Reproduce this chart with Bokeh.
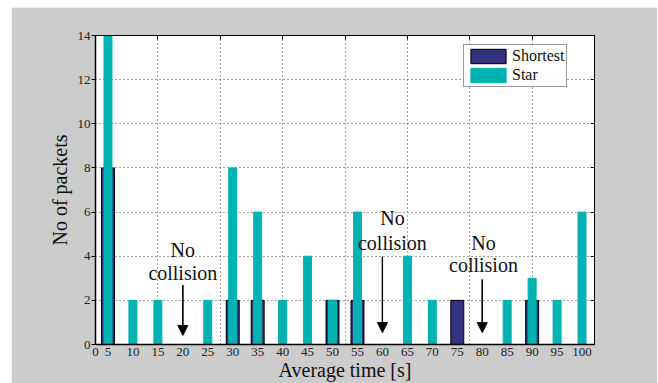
from bokeh.plotting import figure
from bokeh.models import (ColumnDataSource, FixedTicker, LinearAxis, Range1d,
                          Label, Arrow, NormalHead)
from bokeh.embed import file_html
from bokeh.resources import INLINE

# ---- data ----
times = ["5", "10", "15", "20", "25", "30", "35", "40", "45", "50",
         "55", "60", "65", "70", "75", "80", "85", "90", "95", "100"]
shortest = [8, 0, 0, 0, 0, 2, 2, 0, 0, 2, 2, 0, 0, 0, 2, 0, 0, 2, 0, 0]
star = [14, 2, 2, 0, 2, 8, 6, 2, 4, 2, 6, 0, 4, 2, 0, 0, 2, 3, 2, 6]
y_ticks = [0, 2, 4, 6, 8, 10, 12, 14]
no_collision_at = ["20", "60", "80"]

NAVY = "#32327f"
TEAL = "#00b3b3"
FONT = "Liberation Serif"

idx = list(range(1, len(times) + 1))
src = ColumnDataSource(dict(x=idx, shortest=shortest, star=star))

p = figure(width=646, height=376, output_backend="svg", toolbar_location=None,
           x_range=Range1d(0.5, 20.5), y_range=Range1d(0, 14),
           min_border_left=84, min_border_top=28, min_border_right=63,
           min_border_bottom=39)
p.margin = (7, 1, 0, 11)
p.background_fill_color = "white"
p.border_fill_color = "#cccccc"
p.outline_line_color = "black"
p.outline_line_width = 1

p.vbar(x="x", top="shortest", width=0.52, source=src, fill_color=NAVY,
       line_color="black", line_width=1, legend_label="Shortest")
p.vbar(x="x", top="star", width=0.32, source=src, fill_color=TEAL,
       line_color=TEAL, line_width=1, legend_label="Star")

xt = [0.5] + idx
p.xaxis.ticker = FixedTicker(ticks=xt)
ov = {0.5: "0"}
for i, t in zip(idx, times):
    ov[i] = t
p.xaxis.major_label_overrides = ov
p.xaxis.major_tick_in = 0
p.xaxis.major_tick_out = 0
p.xaxis.minor_tick_line_color = None
p.xaxis.major_label_standoff = 3
p.xaxis.axis_label = "Average time [s]"
p.xaxis.axis_label_standoff = 0

p.yaxis.ticker = FixedTicker(ticks=y_ticks)
p.yaxis.major_tick_in = 0
p.yaxis.major_tick_out = 4
p.yaxis.minor_tick_line_color = None
p.yaxis.major_label_standoff = 1
p.yaxis.axis_label = "No of packets"
p.yaxis.axis_label_standoff = 4

for ax in (p.xaxis[0], p.yaxis[0]):
    ax.axis_line_color = "black"
    ax.axis_line_width = 1.5
    ax.major_tick_line_color = "black"
    ax.major_label_text_font = FONT
    ax.major_label_text_font_size = "13px"
    ax.major_label_text_color = "#222222"
    ax.axis_label_text_font = FONT
    ax.axis_label_text_font_size = "20px"
    ax.axis_label_text_font_style = "normal"
    ax.axis_label_text_color = "#111111"

gx = [3, 5.5, 8, 10.5, 13, 15.5, 18]
top = LinearAxis(ticker=FixedTicker(ticks=gx), major_tick_in=4, major_tick_out=0,
                 minor_tick_line_color=None, major_label_text_color=None,
                 axis_line_color="black", major_label_text_font_size="1px")
right = LinearAxis(ticker=FixedTicker(ticks=y_ticks), major_tick_in=4, major_tick_out=0,
                   minor_tick_line_color=None, major_label_text_color=None,
                   axis_line_color="black", major_label_text_font_size="1px")
p.add_layout(top, "above")
p.add_layout(right, "right")

p.xgrid.ticker = FixedTicker(ticks=gx)
for g in (p.xgrid[0], p.ygrid[0]):
    g.grid_line_color = "#444444"
    g.grid_line_dash = "1 3"
    g.grid_line_width = 1
p.ygrid.ticker = FixedTicker(ticks=y_ticks[1:-1])

text_pos = {"20": (4.0, 4.3, 3.26, 2.7, 0.41),
            "60": (12.4, 5.71, 4.62, 3.98, 0.54),
            "80": (16.05, 4.58, 3.58, 2.95, 0.54)}
for t in no_collision_at:
    xi = times.index(t) + 1
    tx, y1, y2, a0, a1 = text_pos[t]
    for s, yy in (("No", y1), ("collision", y2)):
        p.add_layout(Label(x=tx, y=yy, text=s, text_align="center",
                           text_baseline="middle", text_font=FONT,
                           text_font_size="20px", text_color="#111111"))
    p.segment(x0=[xi], y0=[a0], x1=[xi], y1=[a1 + 0.3],
              line_color="black", line_width=1.2)
    p.add_layout(Arrow(x_start=xi, y_start=a0, x_end=xi, y_end=a1,
                       line_color="black", line_width=1.2,
                       end=NormalHead(size=10, fill_color="black",
                                      line_color="black")))

lg = p.legend[0]
lg.location = (368, 257)
lg.border_line_color = "#333333"
lg.border_line_width = 1
lg.background_fill_color = "white"
lg.padding = 2
lg.margin = 0
lg.spacing = 1
lg.glyph_width = 44
lg.glyph_height = 18
lg.label_standoff = 2
lg.label_text_font = FONT
lg.label_text_font_size = "16px"
lg.label_text_color = "#111111"
lg.label_height = 18

open("out.html", "w").write(file_html(p, INLINE))
